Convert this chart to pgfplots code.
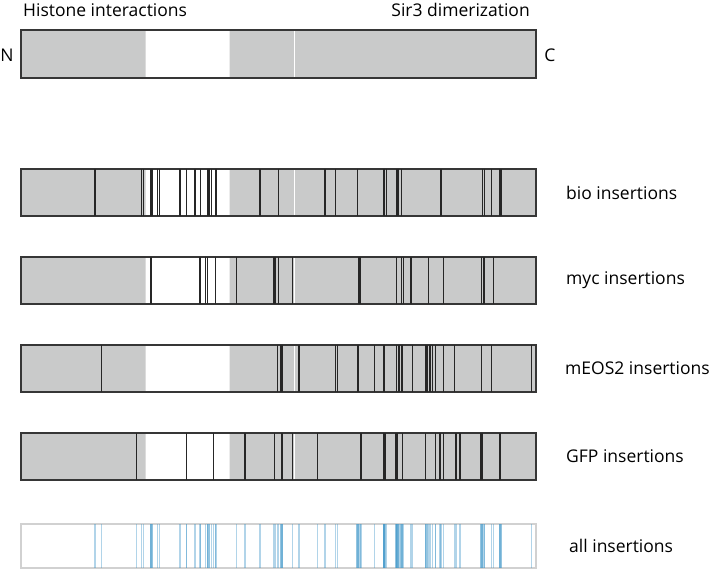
\documentclass[border=0pt]{standalone}
\usepackage{fontspec}
\setmainfont{Open Sans}
\usepackage{pgfplots}
\pgfplotsset{compat=1.18}
\definecolor{boxgray}{HTML}{C9CACA}
\definecolor{ins}{HTML}{262626}
\definecolor{edge}{HTML}{363636}
\definecolor{blueins}{HTML}{3C95C8}
\newcommand{\domainbar}[2]{%
  \addplot[fill=boxgray, draw=none] coordinates {(21,#1) (536,#1) (536,#2) (21,#2) (21,#1)};
  \addplot[fill=white, draw=none] coordinates {(145.5,#1) (229.5,#1) (229.5,#2) (145.5,#2) (145.5,#1)};
  \addplot[white, line width=1.6pt] coordinates {(294.5,#1) (294.5,#2)};
}
\newcommand{\outline}[3]{%
  \addplot[#3, line width=1.7pt, line join=miter, line cap=rect] coordinates {(21,#1) (536,#1) (536,#2) (21,#2) (21,#1)};
}
\tikzset{lab/.style={inner sep=0pt, font=\fontsize{17.5}{19}\selectfont}}
\begin{document}
\begin{tikzpicture}
\begin{axis}[hide axis, scale only axis, width=714pt, height=574pt,
  xmin=0, xmax=714, ymin=0, ymax=574, y dir=reverse, clip=false]
\addplot[draw=none] coordinates {(0,0) (714,574)};

% ---------- top domain map ----------
\domainbar{30}{78}
\outline{30}{78}{edge}
\node[lab, anchor=base west] at (axis cs:23,16) {Histone interactions};
\node[lab, anchor=base east] at (axis cs:530,16) {Sir3 dimerization};
\node[lab, anchor=center] at (axis cs:7,55.5) {N};
\node[lab, anchor=center] at (axis cs:550,55.5) {C};

% ---------- bio ----------
\domainbar{169}{216}
\addplot[only marks, mark=|, mark size=23.5pt, mark options={ins, line width=1.3pt}] coordinates {
(95,192.5) (141.7,192.5) (143.3,192.5) (157.7,192.5) (159.3,192.5) (180,192.5) (186.3,192.5)
(195,192.5) (200.3,192.5) (211.7,192.5) (216,192.5) (260,192.5) (278.3,192.5) (325,192.5)
(335.7,192.5) (357.7,192.5) (384,192.5) (386.7,192.5) (401.7,192.5) (441,192.5) (482.3,192.5)
(484.7,192.5) (491.7,192.5)};
\addplot[only marks, mark=|, mark size=23.5pt, mark options={ins, line width=2.6pt}] coordinates {
(151.5,192.5) (208.2,192.5) (397.5,192.5) (500.2,192.5)};
\outline{169}{216}{edge}
\node[lab, anchor=west] at (axis cs:566,192.5) {bio insertions};

% ---------- myc ----------
\domainbar{257}{304}
\addplot[only marks, mark=|, mark size=23.5pt, mark options={ins, line width=1.3pt}] coordinates {
(151,280.5) (200,280.5) (205.7,280.5) (207.7,280.5) (215.3,280.5) (236.7,280.5) (274,280.5)
(275.7,280.5) (278.3,280.5) (292.3,280.5) (359,280.5) (360.7,280.5) (396.7,280.5) (401.7,280.5)
(403.3,280.5) (411,280.5) (428.7,280.5) (443.3,280.5) (481.7,280.5) (484,280.5) (493.3,280.5)};
\outline{257}{304}{edge}
\node[lab, anchor=west] at (axis cs:566,280.5) {myc insertions};

% ---------- mEOS2 ----------
\domainbar{345}{392}
\addplot[only marks, mark=|, mark size=23.5pt, mark options={ins, line width=1.3pt}] coordinates {
(101.7,368.5) (277.3,368.5) (299,368.5) (335.7,368.5) (337.3,368.5) (374.3,368.5) (396.7,368.5)
(399,368.5) (412.3,368.5) (430,368.5) (432.7,368.5) (435.3,368.5) (443.3,368.5) (454.7,368.5)
(481.7,368.5) (491.7,368.5) (531.7,368.5)};
\addplot[only marks, mark=|, mark size=23.5pt, mark options={ins, line width=2.4pt}] coordinates {
(281.5,368.5) (357.7,368.5) (384,368.5) (401.7,368.5) (426.5,368.5)};
\outline{345}{392}{edge}
\node[lab, anchor=west] at (axis cs:565,368.5) {mEOS2 insertions};

% ---------- GFP ----------
\domainbar{433}{480}
\addplot[fill=boxgray, draw=none] coordinates {(136,433) (144.5,433) (144.5,480) (136,480) (136,433)};
\addplot[only marks, mark=|, mark size=23.5pt, mark options={ins, line width=1.3pt}] coordinates {
(136.7,456.5) (186.7,456.5) (213.3,456.5) (245,456.5) (274.3,456.5) (282,456.5) (292.3,456.5)
(317.3,456.5) (361,456.5) (402.3,456.5) (425.7,456.5) (435.7,456.5) (440,456.5) (443.3,456.5)
(456,456.5) (460,456.5) (500,456.5)};
\addplot[only marks, mark=|, mark size=23.5pt, mark options={ins, line width=3.2pt}] coordinates {
(384.7,456.5) (396.5,456.5) (481.3,456.5)};
\outline{433}{480}{edge}
\node[lab, anchor=west] at (axis cs:566,456.5) {GFP insertions};

% ---------- all ----------
\addplot[fill=white, draw=none] coordinates {(21,524) (536,524) (536,568) (21,568) (21,524)};
\addplot[only marks, mark=|, mark size=22pt, mark options={blueins, opacity=0.4, line width=1.2pt}] coordinates {
(95,546) (141.7,546) (143.3,546) (157.7,546) (159.3,546) (180,546) (186.3,546)
(195,546) (200.3,546) (211.7,546) (216,546) (260,546) (278.3,546) (325,546)
(335.7,546) (357.7,546) (384,546) (386.7,546) (401.7,546) (441,546) (482.3,546)
(484.7,546) (491.7,546)
(151,546) (200,546) (205.7,546) (207.7,546) (215.3,546) (236.7,546) (274,546)
(275.7,546) (292.3,546) (359,546) (360.7,546) (396.7,546) (403.3,546)
(411,546) (428.7,546) (443.3,546) (481.7,546) (484,546) (493.3,546)
(101.7,546) (277.3,546) (299,546) (337.3,546) (374.3,546)
(399,546) (412.3,546) (430,546) (432.7,546) (435.3,546) (454.7,546)
(531.7,546)
(136.7,546) (186.7,546) (213.3,546) (245,546) (282,546)
(317.3,546) (361,546) (402.3,546) (425.7,546) (435.7,546) (440,546)
(456,546) (460,546) (500,546)};
\addplot[only marks, mark=|, mark size=22pt, mark options={blueins, opacity=0.55, line width=2.6pt}] coordinates {
(151.5,546) (208.2,546) (397.5,546) (500.2,546) (281.5,546) (357.7,546) (384,546) (401.7,546) (426.5,546) (384.7,546) (396.5,546) (481.3,546)};
\outline{524}{568}{black!18}
\node[lab, anchor=west] at (axis cs:569,546) {all insertions};
\end{axis}
\end{tikzpicture}
\end{document}
